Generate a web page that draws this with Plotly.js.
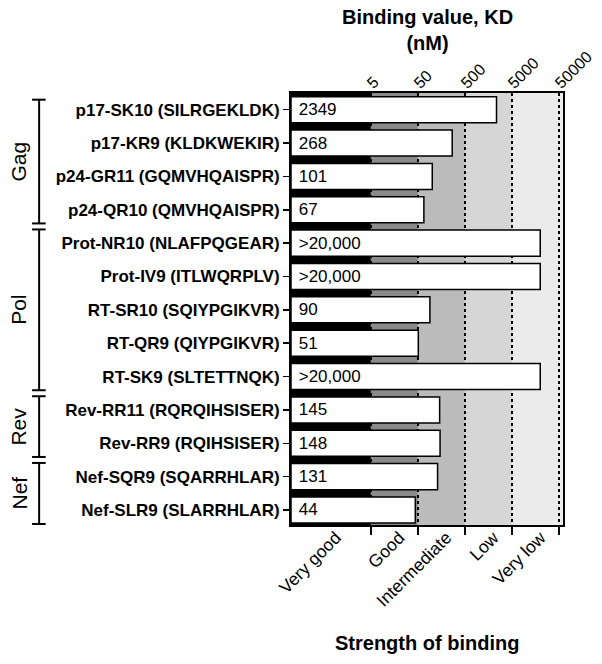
<!DOCTYPE html>
<html><head><meta charset="utf-8">
<script src="https://cdn.plot.ly/plotly-3.0.1.min.js"></script>
<style>html,body{margin:0;padding:0;background:#fff}#chart{width:602px;height:664px}</style>
</head><body><div id="chart"></div>
<script>
// ---- data ----
const peptides = ["p17-SK10 (SILRGEKLDK)","p17-KR9 (KLDKWEKIR)","p24-GR11 (GQMVHQAISPR)","p24-QR10 (QMVHQAISPR)","Prot-NR10 (NLAFPQGEAR)","Prot-IV9 (ITLWQRPLV)","RT-SR10 (SQIYPGIKVR)","RT-QR9 (QIYPGIKVR)","RT-SK9 (SLTETTNQK)","Rev-RR11 (RQRQIHSISER)","Rev-RR9 (RQIHSISER)","Nef-SQR9 (SQARRHLAR)","Nef-SLR9 (SLARRHLAR)"];
const kdValues = [2349,268,101,67,20000,20000,90,51,20000,145,148,131,44];
const kdLabels = ["2349","268","101","67",">20,000",">20,000","90","51",">20,000","145","148","131","44"];
const groupNames = ["Gag","Pol","Rev","Nef"];
const groupSizes = [4,5,2,2];
const bandEdges = [0.1,5,50,500,5000,50000];
const bandNames = ["Very good","Good","Intermediate","Low","Very low"];
const kdTickVals = [5,50,500,5000,50000];
const kdTickText = ["5","50","500","5000","50000"];
const topTitle = "Binding value, KD<br>(nM)";
const bottomTitle = "Strength of binding";

// ---- style ----
const FONT = "Liberation Sans, Arial, Helvetica, sans-serif";
const bandColors = ["#000000","#8a8a8a","#bbbbbb","#d6d6d6","#ebebeb"];
const xRange = [-1, 4.785];
const barBase = Math.pow(10, xRange[0]);

// band shapes (last band extends to the right edge)
const shapes = [];
bandNames.forEach((n, i) => {
  const x0 = bandEdges[i];
  const x1 = (i === bandNames.length - 1) ? Math.pow(10, xRange[1]) : bandEdges[i + 1];
  shapes.push({type:"rect", xref:"x", yref:"paper", x0:x0, x1:x1, y0:0, y1:1,
    fillcolor:bandColors[i], line:{width:0}, layer:"below"});
});
// band centres for the category labels
const bandCenters = bandNames.map((n, i) => Math.sqrt(bandEdges[i] * bandEdges[i + 1]));

// group brackets
const brX = -0.926, capL = -0.952, capR = -0.902;
const annotations = [];
let start = 0;
groupSizes.forEach((sz, gi) => {
  const end = start + sz - 1;
  const top = gi === 0 ? start - 0.3 : start - 0.5 + 0.09;
  const bot = gi === groupSizes.length - 1 ? end + 0.42 : end + 0.5 - 0.09;
  const ln = {color:"#000", width:2};
  shapes.push({type:"line", xref:"paper", yref:"y", x0:brX, x1:brX, y0:top, y1:bot, line:ln});
  shapes.push({type:"line", xref:"paper", yref:"y", x0:capL, x1:capR, y0:top, y1:top, line:ln});
  shapes.push({type:"line", xref:"paper", yref:"y", x0:capL, x1:capR, y0:bot, y1:bot, line:ln});
  annotations.push({xref:"paper", yref:"y", x:-1.0, y:(top + bot) / 2, text:groupNames[gi],
    xanchor:"center", yanchor:"middle",
    textangle:-90, showarrow:false, font:{family:FONT, size:21, color:"#000"}});
  start += sz;
});
// titles
annotations.push({xref:"paper", yref:"paper", x:0.5, y:1.146, xanchor:"center", yanchor:"middle",
  text:topTitle, showarrow:false, font:{family:FONT, size:20, weight:"bold", color:"#000"}});
annotations.push({xref:"paper", yref:"paper", x:0.5, y:-0.273, xanchor:"center", yanchor:"middle",
  text:bottomTitle, showarrow:false, font:{family:FONT, size:20, weight:"bold", color:"#000"}});

const trace = {
  type:"bar", orientation:"h",
  y: peptides,
  x: kdValues.map(v => v - barBase),
  base: barBase,
  width: 0.78,
  marker:{color:"#ffffff", line:{color:"#000", width:1.5}},
  text: kdLabels, texttemplate:"\u00a0%{text}", textposition:"inside", insidetextanchor:"start",
  constraintext:"none", textangle:0,
  textfont:{family:FONT, size:17, color:"#000"},
  hoverinfo:"y+text", showlegend:false
};
// carrier traces so the top (KD) axis and the strength-category axis are drawn
const topAxisCarrier = {type:"scatter", mode:"none", x:kdValues, y:peptides, xaxis:"x2", yaxis:"y", hoverinfo:"skip", showlegend:false};
const catAxisCarrier = {type:"scatter", mode:"none", x:kdValues, y:peptides, xaxis:"x3", yaxis:"y", hoverinfo:"skip", showlegend:false};

const layout = {
  width:602, height:664,
  margin:{l:291, r:39, t:93, b:139},
  paper_bgcolor:"#fff", plot_bgcolor:"#fff",
  font:{family:FONT, color:"#000"},
  showlegend:false, barmode:"overlay",
  shapes: shapes,
  annotations: annotations,
  xaxis:{type:"log", range:xRange, side:"bottom", anchor:"y",
    tickmode:"array", tickvals:kdTickVals, ticktext:kdTickText, showticklabels:false,
    ticks:"outside", ticklen:8, tickwidth:1.5, tickcolor:"#000",
    showline:true, linecolor:"#000", linewidth:2, mirror:true,
    showgrid:true, gridcolor:"#000", gridwidth:1.5, griddash:"dot", zeroline:false},
  xaxis2:{type:"log", range:xRange, overlaying:"x", side:"top", anchor:"y",
    tickmode:"array", tickvals:kdTickVals, ticktext:kdTickText, tickangle:-45,
    ticks:"", showgrid:false, showline:false, zeroline:false,
    ticklabelstandoff:-3, ticklabelshift:-3,
    tickfont:{family:FONT, size:16, color:"#000"}},
  xaxis3:{type:"log", range:xRange, overlaying:"x", side:"bottom", anchor:"y",
    tickmode:"array", tickvals:bandCenters, ticktext:bandNames, tickangle:-45,
    ticks:"", showgrid:false, showline:false, zeroline:false,
    ticklabelstandoff:-2, ticklabelshift:5,
    tickfont:{family:FONT, size:17.5, color:"#000"}},
  yaxis:{type:"category", categoryorder:"array", categoryarray:peptides,
    range:[12.45, -0.5], ticks:"outside", ticklen:6, tickwidth:1.5, tickcolor:"#000",
    showline:true, linecolor:"#000", linewidth:2, mirror:true, showgrid:false, zeroline:false,
    tickfont:{family:FONT, size:17, weight:"bold", color:"#000"}}
};

Plotly.newPlot("chart", [trace, topAxisCarrier, catAxisCarrier], layout, {displayModeBar:false, staticPlot:true});
</script>
</body></html>
